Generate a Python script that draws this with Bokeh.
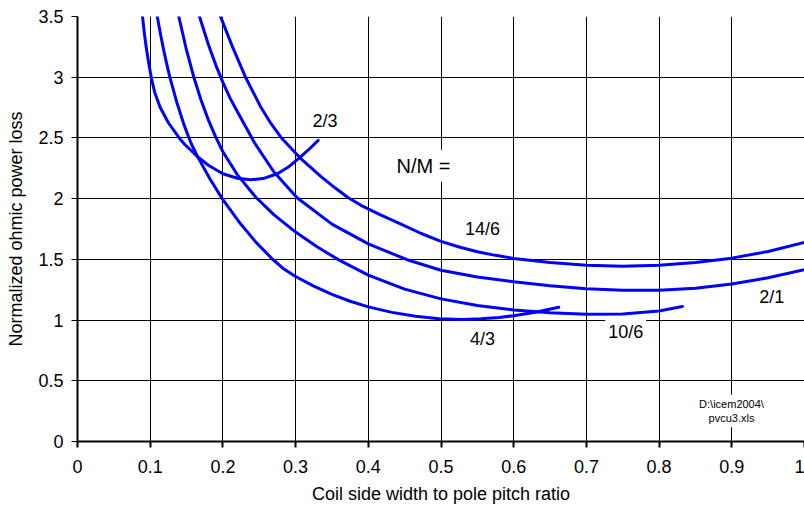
from bokeh.plotting import figure
from bokeh.models import Range1d, FixedTicker, Label
from bokeh.embed import file_html
from bokeh.resources import INLINE

# ---- data ----
x_ticks = [0, 0.1, 0.2, 0.3, 0.4, 0.5, 0.6, 0.7, 0.8, 0.9, 1]
x_tick_labels = ["0", "0.1", "0.2", "0.3", "0.4", "0.5", "0.6", "0.7", "0.8", "0.9", "1"]
y_ticks = [0, 0.5, 1, 1.5, 2, 2.5, 3, 3.5]
y_tick_labels = ["0", "0.5", "1", "1.5", "2", "2.5", "3", "3.5"]

x_2_3 = [0.0894, 0.0917, 0.0944, 0.0977, 0.1014, 0.1062, 0.1138, 0.125, 0.1399, 0.1476, 0.1655,
         0.18, 0.2, 0.22, 0.238, 0.255, 0.275, 0.29, 0.306, 0.32, 0.331]
y_2_3 = [3.5, 3.375, 3.25, 3.125, 3.0, 2.875, 2.75, 2.625, 2.5, 2.446, 2.344,
         2.275, 2.205, 2.168, 2.155, 2.165, 2.205, 2.26, 2.34, 2.415, 2.48]

x_4_3 = [0.1097, 0.114, 0.1183, 0.1227, 0.127, 0.1366, 0.14625, 0.15588, 0.1655, 0.18225, 0.199,
         0.222, 0.245, 0.268, 0.284, 0.3, 0.325, 0.35, 0.375, 0.4, 0.4325, 0.465, 0.4975, 0.53,
         0.555, 0.58, 0.6, 0.63, 0.662]
y_4_3 = [3.5, 3.36, 3.23, 3.11, 3.0, 2.7925, 2.6126, 2.4604, 2.342, 2.162, 2.0,
         1.81, 1.644, 1.503, 1.42, 1.359, 1.28, 1.2115, 1.155, 1.109, 1.0635, 1.031, 1.0115, 1.005,
         1.01, 1.022, 1.036, 1.064, 1.105]

x_10_6 = [0.1393, 0.15, 0.16, 0.17, 0.18, 0.19, 0.2, 0.22, 0.245, 0.27, 0.3, 0.33, 0.36, 0.4,
          0.45, 0.5, 0.55, 0.6, 0.65, 0.7, 0.75, 0.8, 0.832]
y_10_6 = [3.5, 3.222, 3.0, 2.81, 2.648, 2.508, 2.386, 2.196, 2.0135, 1.8685, 1.7245, 1.6015, 1.4935, 1.3695,
          1.2545, 1.1745, 1.1195, 1.0835, 1.061, 1.0485, 1.0495, 1.0745, 1.111]

x_2_1 = [0.1678, 0.18, 0.19, 0.2, 0.21, 0.22, 0.2435, 0.27, 0.302, 0.35, 0.4, 0.4535, 0.5,
         0.55, 0.6, 0.65, 0.7, 0.75, 0.8, 0.85, 0.9, 0.95, 1.0]
y_2_1 = [3.5, 3.269, 3.104, 2.958, 2.826, 2.716, 2.46, 2.2215, 2.007, 1.79, 1.627, 1.497, 1.41,
         1.354, 1.315, 1.283, 1.258, 1.245, 1.245, 1.262, 1.297, 1.348, 1.415]

x_14_6 = [0.1967, 0.2128, 0.2311, 0.2525, 0.265, 0.28, 0.306, 0.335, 0.355, 0.372, 0.39, 0.4167,
          0.445, 0.472, 0.5, 0.525, 0.55, 0.575, 0.6, 0.65, 0.7, 0.75, 0.8, 0.85, 0.9, 0.95, 1.0]
y_14_6 = [3.5, 3.256, 3.0, 2.75, 2.629, 2.504, 2.336, 2.182, 2.085, 2.01, 1.945, 1.866,
          1.79, 1.715, 1.648, 1.602, 1.563, 1.533, 1.508, 1.474, 1.452, 1.443, 1.452, 1.474, 1.51, 1.565, 1.64]

x_title = "Coil side width to pole pitch ratio"
y_title = "Normalized ohmic power loss"

FONT = "Liberation Sans"

p = figure(frame_width=727, frame_height=425,
           x_range=Range1d(0, 1), y_range=Range1d(0, 3.5),
           output_backend="svg", toolbar_location=None,
           min_border_left=77, min_border_right=0,
           min_border_top=16, min_border_bottom=73)

p.background_fill_color = "white"
p.border_fill_color = "white"
p.outline_line_color = None

# grid
for g in (p.xgrid, p.ygrid):
    g.grid_line_color = "black"
    g.grid_line_width = 1
p.xgrid.ticker = FixedTicker(ticks=x_ticks)
p.ygrid.ticker = FixedTicker(ticks=y_ticks)

# axes
p.xaxis.ticker = FixedTicker(ticks=x_ticks)
p.yaxis.ticker = FixedTicker(ticks=y_ticks)
p.xaxis.major_label_overrides = dict(zip(x_ticks, x_tick_labels))
p.yaxis.major_label_overrides = dict(zip(y_ticks, y_tick_labels))
for ax in (p.xaxis[0], p.yaxis[0]):
    ax.axis_line_color = "black"
    ax.axis_line_width = 2
    ax.major_tick_line_color = "black"
    ax.major_tick_in = 0
    ax.major_tick_out = 6
    ax.minor_tick_line_color = None
    ax.major_label_text_font = FONT
    ax.major_label_text_font_size = "18px"
    ax.major_label_text_color = "black"
    ax.axis_label_text_font = FONT
    ax.axis_label_text_font_size = "18px"
    ax.axis_label_text_font_style = "normal"
    ax.axis_label_text_color = "black"
p.xaxis.major_tick_line_width = 2
p.yaxis.major_tick_line_width = 1
p.xaxis.major_label_standoff = 12
p.yaxis.major_label_standoff = 8
p.xaxis.axis_label = x_title
p.yaxis.axis_label = y_title
p.xaxis.axis_label_standoff = 8
p.yaxis.axis_label_standoff = 9

# curves
for xs, ys in ((x_2_3, y_2_3), (x_4_3, y_4_3), (x_10_6, y_10_6), (x_2_1, y_2_1), (x_14_6, y_14_6)):
    p.line(xs, ys, line_color="#0000FF", line_width=3, line_join="round", line_cap="round")

# labels
def lab(x, y, text, size="18px", box=False, pad=4):
    kw = dict(x=x, y=y, text=text, text_align="center", text_baseline="middle",
              text_font=FONT, text_font_size=size, text_color="black")
    if box:
        kw.update(background_fill_color="white", padding=pad)
    p.add_layout(Label(**kw))

lab(0.3404, 2.642, "2/3")
lab(0.476, 2.27, "N/M =", size="20px", box=True, pad=5)
lab(0.557, 1.748, "14/6")
lab(0.557, 0.841, "4/3")
lab(0.754, 0.899, "10/6", box=True, pad=3)
lab(0.955, 1.187, "2/1")
lab(0.8996, 0.2514, "D:\\icem2004\\\npvcu3.xls", size="11px", box=True, pad=3)

open("out.html", "w").write(file_html(p, INLINE))
